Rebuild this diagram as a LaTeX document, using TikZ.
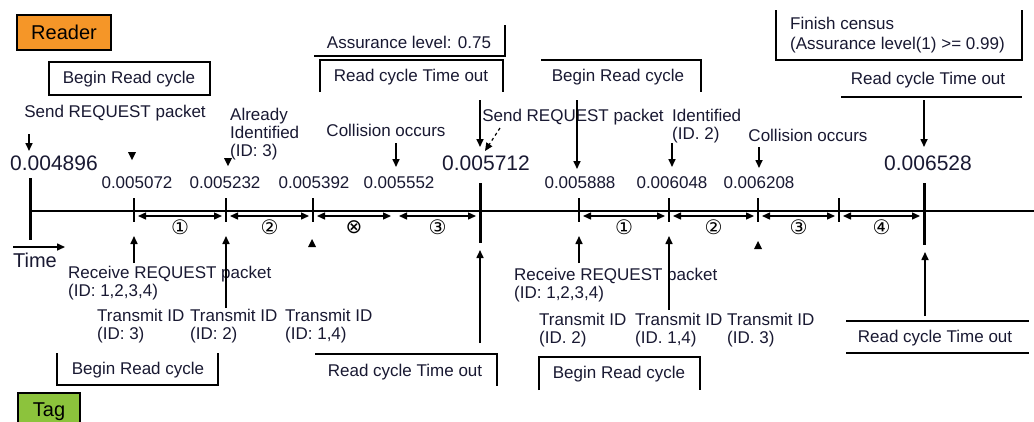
\documentclass[tikz,border=0pt]{standalone}
\usepackage{fontspec}
\setmainfont{Liberation Sans}
\newfontfamily\symfont{DejaVu Sans}
\usetikzlibrary{arrows.meta,calc}
\definecolor{txtc}{RGB}{25,25,50}
\definecolor{readerc}{RGB}{245,150,40}
\definecolor{tagc}{RGB}{140,195,60}
\begin{document}
\begin{tikzpicture}[x=1pt,y=-1pt,
  lbl/.style={inner sep=0pt, text=txtc, font=\fontsize{17}{18}\selectfont},
  biglbl/.style={inner sep=0pt, text=txtc, font=\fontsize{21}{24}\selectfont},
  ttl/.style={inner sep=0pt, text=black, font=\fontsize{20}{22}\selectfont},
  multi/.style={lbl, align=left, anchor=west},
  frame/.style={line width=2pt},
  ptr/.style={line width=1.6pt, -{Triangle[length=8pt,width=7pt]}},
  dptr/.style={line width=1.2pt, dashed, -{Triangle[length=8pt,width=7pt]}},
  spanarr/.style={line width=1.4pt, {Triangle[length=8pt,width=7pt]}-{Triangle[length=8pt,width=7pt]}},
  tickline/.style={line width=1.6pt},
  major/.style={line width=3pt},
  slot/.style={inner sep=0pt, font=\fontsize{20}{22}\symfont},
  headonly/.style={fill=black}
]
\useasboundingbox (0,0) rectangle (1034,421);
\fill[white] (0,0) rectangle (1034,421);

% ---------- title boxes ----------
\node[ttl, draw=black, line width=2pt, fill=readerc, minimum width=94pt, minimum height=35pt] (reader) at (64,32.5) {Reader};
\node[ttl, draw=black, line width=2pt, fill=tagc, anchor=north west, minimum width=62pt, minimum height=38pt] (tag) at (17,392) {Tag};

% ---------- timeline ----------
\coordinate (t0) at (30,211);
\coordinate (t1) at (134,211);
\coordinate (t2) at (226,211);
\coordinate (t3) at (313,211);
\coordinate (t35) at (395,211);
\coordinate (t4) at (480,211);
\coordinate (t5) at (579,211);
\coordinate (t6) at (669,211);
\coordinate (t7) at (758,211);
\coordinate (t8) at (839,211);
\coordinate (t9) at (924,211);
\coordinate (tend) at (1034,211);
\draw[line width=1.6pt] (t0) -- (tend);
\draw[major] ($(t0)+(0,-33)$) -- ($(t0)+(0,29)$);
\draw[major] ($(t4)+(0,-28)$) -- ($(t4)+(0,32)$);
\draw[major] ($(t9)+(0,-28)$) -- ($(t9)+(0,34)$);
\foreach \t in {t1,t2,t3,t5,t6,t7,t8}
  \draw[tickline] ($(\t)+(0,-13)$) -- ($(\t)+(0,11)$);

% slot spans
\foreach \a/\b/\s in {t1/t2/①, t2/t3/②, t3/t35/⊗, t35/t4/③, t5/t6/①, t6/t7/②, t7/t8/③, t8/t9/④}
  \draw[spanarr] ($(\a)+(4,5)$) -- ($(\b)+(-4,5)$) node[slot, midway, yshift=-11pt] {\s};

% ---------- time values ----------
\node[biglbl] (v0) at (54,163) {0.004896};
\node[lbl] (v1) at (137,183) {0.005072};
\node[lbl] (v2) at (225,183) {0.005232};
\node[lbl] (v3) at (314,183) {0.005392};
\node[lbl] (v35) at (399,183) {0.005552};
\node[biglbl] (v4) at (486,163) {0.005712};
\node[lbl] (v5) at (580,183) {0.005888};
\node[lbl] (v6) at (672,183) {0.006048};
\node[lbl] (v7) at (759,183) {0.006208};
\node[biglbl] (v9) at (928,163) {0.006528};

% ---------- reader side (top) ----------
\draw[frame] (49,62) rectangle (210,95);
\node[lbl] (brc1) at (129,79) {Begin Read cycle};

\node[lbl] (assur) at (409,42) {Assurance level: 0.75};
\draw[frame] (314,56) -- (505,56) -- (505,25);

\node[lbl] (rto1) at (411,77) {Read cycle Time out};
\draw[frame] (320,92) -- (320,60) -- (503,60) -- (503,92);

\node[lbl] (brc2) at (618,77) {Begin Read cycle};
\draw[frame] (541,60) -- (701,60) -- (701,92);

\node[multi] (finish) at (790,35) {Finish census\\[2pt](Assurance level(1) >= 0.99)};
\draw[frame] (776,10) -- (776,60) -- (1022,60) -- (1022,10);

\node[lbl] (rto2) at (928,80) {Read cycle Time out};
\draw[frame] (841,97) -- (1022,97);

\node[lbl] (send1) at (115,113) {Send REQUEST packet};
\coordinate (send1a) at (29,134);
\coordinate (send1b) at (29,151);
\draw[ptr] (send1a) -- (send1b);

\node[multi] (already) at (230,134) {Already\\Identified\\(ID: 3)};

\node[lbl] (coll1) at (386,130) {Collision occurs};
\coordinate (coll1a) at (396,143);
\coordinate (coll1b) at (396,167);
\draw[ptr] (coll1a) -- (coll1b);

\coordinate (rto1a) at (480,100);
\coordinate (rto1b) at (480,147);
\draw[ptr] (rto1a) -- (rto1b);

\node[lbl] (send2) at (573,117) {Send REQUEST packet};
\coordinate (send2a) at (500,128);
\coordinate (send2b) at (485,151);
\draw[dptr] (send2a) -- (send2b);

\coordinate (brc2a) at (577,100);
\coordinate (brc2b) at (577,169);
\draw[ptr] (brc2a) -- (brc2b);

\node[multi] (ident2) at (672,126) {Identified\\(ID. 2)};
\coordinate (ident2a) at (672,143);
\coordinate (ident2b) at (672,167);
\draw[ptr] (ident2a) -- (ident2b);

\node[lbl] (coll2) at (808,135) {Collision occurs};
\coordinate (coll2a) at (759,147);
\coordinate (coll2b) at (759,168);
\draw[ptr] (coll2a) -- (coll2b);

\coordinate (rto2a) at (924,100);
\coordinate (rto2b) at (924,147);
\draw[ptr] (rto2a) -- (rto2b);

% isolated arrowheads
\fill[headonly] (128,152) -- (136,152) -- (132,160) -- cycle;
\fill[headonly] (224,158) -- (232,158) -- (228,166) -- cycle;
\fill[headonly] (308,247) -- (316,247) -- (312,239) -- cycle;
\fill[headonly] (754,249) -- (762,249) -- (758,241) -- cycle;

% ---------- Time axis label ----------
\coordinate (timea) at (13,247);
\coordinate (timeb) at (65,247);
\draw[ptr] (timea) -- (timeb);
\node[ttl, text=txtc] (timelbl) at (35,260) {Time};

% ---------- tag side (bottom) ----------
\coordinate (rx1a) at (134,263);
\coordinate (rx1b) at (134,236);
\draw[ptr] (rx1a) -- (rx1b);
\node[multi] (rx1) at (68,283) {Receive REQUEST packet\\(ID: 1,2,3,4)};

\coordinate (tx1a) at (226,308);
\coordinate (tx1b) at (226,236);
\draw[ptr] (tx1a) -- (tx1b);
\node[multi] (tx1) at (97,326) {Transmit ID\\(ID: 3)};
\node[multi] (tx2) at (190,326) {Transmit ID\\(ID: 2)};
\node[multi] (tx3) at (285,326) {Transmit ID\\(ID: 1,4)};

\coordinate (tag4a) at (480,343);
\coordinate (tag4b) at (480,250);
\draw[ptr] (tag4a) -- (tag4b);

\node[lbl] (brc3) at (138,370) {Begin Read cycle};
\draw[frame] (57,353) -- (57,385) -- (218,385) -- (218,353);

\node[lbl] (rto3) at (405,372) {Read cycle Time out};
\draw[frame] (315,354) -- (497,354) -- (497,386);

\coordinate (rx2a) at (579,263);
\coordinate (rx2b) at (579,236);
\draw[ptr] (rx2a) -- (rx2b);
\node[multi] (rx2) at (514,285) {Receive REQUEST packet\\(ID: 1,2,3,4)};

\coordinate (tx5a) at (669,310);
\coordinate (tx5b) at (669,236);
\draw[ptr] (tx5a) -- (tx5b);
\node[multi] (tx4) at (539,330) {Transmit ID\\(ID. 2)};
\node[multi] (tx5) at (635,330) {Transmit ID\\(ID. 1,4)};
\node[multi] (tx6) at (727,330) {Transmit ID\\(ID. 3)};

\node[lbl] (brc4) at (619,374) {Begin Read cycle};
\draw[frame] (539,390) -- (539,357) -- (700,357) -- (700,390);

\node[lbl] (rto4) at (935,338) {Read cycle Time out};
\draw[frame] (846,321) -- (1029,321);
\draw[frame] (846,353) -- (1029,353);

\coordinate (rto4a) at (925,316);
\coordinate (rto4b) at (925,252);
\draw[ptr] (rto4a) -- (rto4b);
\end{tikzpicture}
\end{document}
